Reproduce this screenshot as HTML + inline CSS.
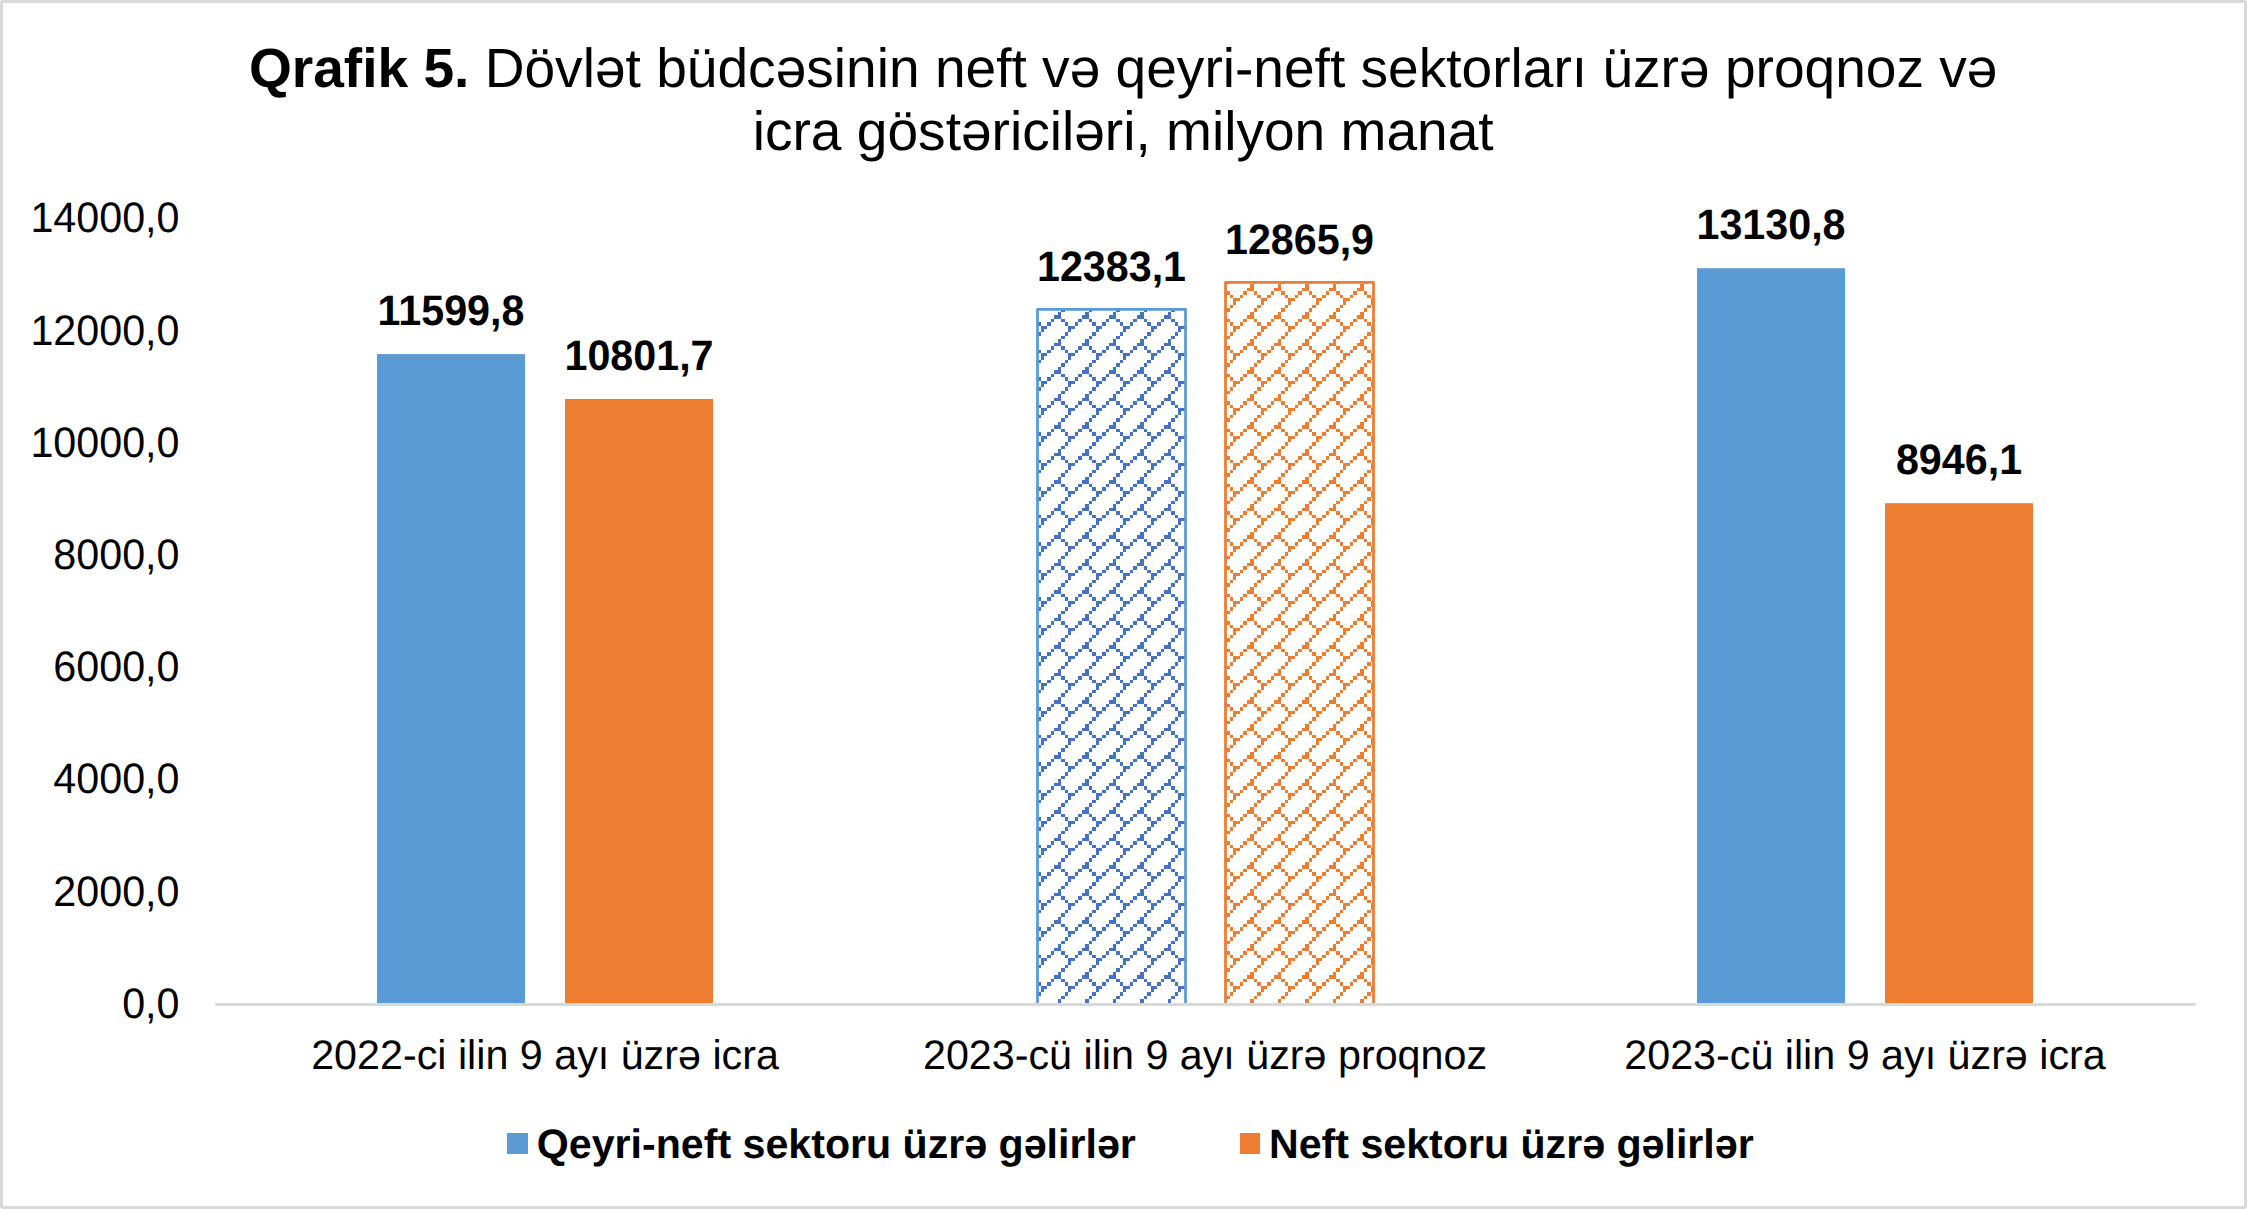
<!DOCTYPE html>
<html lang="az">
<head>
<meta charset="utf-8">
<title>Qrafik 5</title>
<style>
html,body{margin:0;padding:0;background:#fff;}
body{width:2247px;height:1209px;overflow:hidden;position:relative;}
svg{position:absolute;left:0;top:0;display:block;}
text{font-family:"Liberation Sans",sans-serif;fill:#000;text-rendering:geometricPrecision;}
.t{font-size:55.1px;}
.a{font-size:41.25px;}
.b{font-size:41.25px;font-weight:bold;}
.l{font-size:41.15px;font-weight:bold;}
</style>
</head>
<body>
<svg width="2247" height="1209" viewBox="0 0 2247 1209">
<defs>
<pattern id="pb" patternUnits="userSpaceOnUse" x="54" y="37" width="55" height="55"><rect width="55" height="55" fill="#fff"/><g fill="#4472C4" shape-rendering="crispEdges"><rect x="14" y="0" width="3" height="3"/><rect x="41" y="0" width="4" height="3"/><rect x="10" y="3" width="4" height="4"/><rect x="38" y="3" width="3" height="4"/><rect x="14" y="3" width="3" height="4"/><rect x="41" y="3" width="4" height="4"/><rect x="7" y="7" width="3" height="3"/><rect x="34" y="7" width="4" height="3"/><rect x="17" y="7" width="4" height="3"/><rect x="45" y="7" width="3" height="3"/><rect x="3" y="10" width="4" height="4"/><rect x="31" y="10" width="3" height="4"/><rect x="21" y="10" width="3" height="4"/><rect x="48" y="10" width="4" height="4"/><rect x="24" y="14" width="3" height="3"/><rect x="52" y="14" width="3" height="3"/><rect x="0" y="14" width="3" height="3"/><rect x="27" y="14" width="4" height="3"/><rect x="24" y="17" width="3" height="3"/><rect x="52" y="17" width="3" height="3"/><rect x="21" y="20" width="3" height="4"/><rect x="48" y="20" width="4" height="4"/><rect x="17" y="24" width="4" height="3"/><rect x="45" y="24" width="3" height="3"/><rect x="14" y="27" width="3" height="4"/><rect x="41" y="27" width="4" height="4"/><rect x="10" y="31" width="4" height="3"/><rect x="38" y="31" width="3" height="3"/><rect x="14" y="31" width="3" height="3"/><rect x="41" y="31" width="4" height="3"/><rect x="7" y="34" width="3" height="4"/><rect x="34" y="34" width="4" height="4"/><rect x="17" y="34" width="4" height="4"/><rect x="45" y="34" width="3" height="4"/><rect x="3" y="38" width="4" height="3"/><rect x="31" y="38" width="3" height="3"/><rect x="21" y="38" width="3" height="3"/><rect x="48" y="38" width="4" height="3"/><rect x="24" y="41" width="3" height="3"/><rect x="52" y="41" width="3" height="3"/><rect x="0" y="41" width="3" height="3"/><rect x="27" y="41" width="4" height="3"/><rect x="24" y="44" width="3" height="4"/><rect x="52" y="44" width="3" height="4"/><rect x="21" y="48" width="3" height="3"/><rect x="48" y="48" width="4" height="3"/><rect x="17" y="51" width="4" height="4"/><rect x="45" y="51" width="3" height="4"/></g></pattern>
<pattern id="po" patternUnits="userSpaceOnUse" x="54" y="37" width="55" height="55"><rect width="55" height="55" fill="#fff"/><g fill="#ED7D31" shape-rendering="crispEdges"><rect x="14" y="0" width="3" height="3"/><rect x="41" y="0" width="4" height="3"/><rect x="10" y="3" width="4" height="4"/><rect x="38" y="3" width="3" height="4"/><rect x="14" y="3" width="3" height="4"/><rect x="41" y="3" width="4" height="4"/><rect x="7" y="7" width="3" height="3"/><rect x="34" y="7" width="4" height="3"/><rect x="17" y="7" width="4" height="3"/><rect x="45" y="7" width="3" height="3"/><rect x="3" y="10" width="4" height="4"/><rect x="31" y="10" width="3" height="4"/><rect x="21" y="10" width="3" height="4"/><rect x="48" y="10" width="4" height="4"/><rect x="24" y="14" width="3" height="3"/><rect x="52" y="14" width="3" height="3"/><rect x="0" y="14" width="3" height="3"/><rect x="27" y="14" width="4" height="3"/><rect x="24" y="17" width="3" height="3"/><rect x="52" y="17" width="3" height="3"/><rect x="21" y="20" width="3" height="4"/><rect x="48" y="20" width="4" height="4"/><rect x="17" y="24" width="4" height="3"/><rect x="45" y="24" width="3" height="3"/><rect x="14" y="27" width="3" height="4"/><rect x="41" y="27" width="4" height="4"/><rect x="10" y="31" width="4" height="3"/><rect x="38" y="31" width="3" height="3"/><rect x="14" y="31" width="3" height="3"/><rect x="41" y="31" width="4" height="3"/><rect x="7" y="34" width="3" height="4"/><rect x="34" y="34" width="4" height="4"/><rect x="17" y="34" width="4" height="4"/><rect x="45" y="34" width="3" height="4"/><rect x="3" y="38" width="4" height="3"/><rect x="31" y="38" width="3" height="3"/><rect x="21" y="38" width="3" height="3"/><rect x="48" y="38" width="4" height="3"/><rect x="24" y="41" width="3" height="3"/><rect x="52" y="41" width="3" height="3"/><rect x="0" y="41" width="3" height="3"/><rect x="27" y="41" width="4" height="3"/><rect x="24" y="44" width="3" height="4"/><rect x="52" y="44" width="3" height="4"/><rect x="21" y="48" width="3" height="3"/><rect x="48" y="48" width="4" height="3"/><rect x="17" y="51" width="4" height="4"/><rect x="45" y="51" width="3" height="4"/></g></pattern>
</defs>
<rect x="0" y="0" width="2247" height="1209" fill="#fff"/>
<rect x="1.5" y="1.5" width="2244" height="1206" rx="1.5" fill="#fff" stroke="#D9D9D9" stroke-width="3"/>
<text class="t" transform="translate(1123.2,87)" text-anchor="middle"><tspan font-weight="bold">Qrafik 5.</tspan> Dövlət büdcəsinin neft və qeyri-neft sektorları üzrə proqnoz və</text>
<text class="t" transform="translate(1123.2,150)" text-anchor="middle">icra göstəriciləri, milyon manat</text>
<text class="a" transform="translate(179.5,1017.7) scale(1,1.033)" text-anchor="end">0,0</text>
<text class="a" transform="translate(179.5,905.5) scale(1,1.033)" text-anchor="end">2000,0</text>
<text class="a" transform="translate(179.5,793.3) scale(1,1.033)" text-anchor="end">4000,0</text>
<text class="a" transform="translate(179.5,681.1) scale(1,1.033)" text-anchor="end">6000,0</text>
<text class="a" transform="translate(179.5,568.9) scale(1,1.033)" text-anchor="end">8000,0</text>
<text class="a" transform="translate(179.5,456.7) scale(1,1.033)" text-anchor="end">10000,0</text>
<text class="a" transform="translate(179.5,344.5) scale(1,1.033)" text-anchor="end">12000,0</text>
<text class="a" transform="translate(179.5,232.3) scale(1,1.033)" text-anchor="end">14000,0</text>
<rect x="377" y="354.1" width="148" height="650.4" fill="#5B9BD5"/>
<rect x="565" y="399.0" width="148" height="605.5" fill="#ED7D31"/>
<rect x="1697" y="268.2" width="148" height="736.3" fill="#5B9BD5"/>
<rect x="1885" y="503.2" width="148" height="501.3" fill="#ED7D31"/>
<rect x="1037.5" y="309.4" width="148.0" height="695.1" fill="url(#pb)" stroke="#5B9BD5" stroke-width="2.75" stroke-linejoin="round"/>
<rect x="1225.5" y="282.4" width="148.0" height="722.1" fill="url(#po)" stroke="#ED7D31" stroke-width="2.75" stroke-linejoin="round"/>
<line x1="215.3" y1="1004.5" x2="2195.5" y2="1004.5" stroke="#D9D9D9" stroke-width="2.8"/>
<text class="b" transform="translate(451,325.0) scale(1,1.033)" text-anchor="middle">11599,8</text>
<text class="b" transform="translate(639,369.9) scale(1,1.033)" text-anchor="middle">10801,7</text>
<text class="b" transform="translate(1111.5,281.1) scale(1,1.033)" text-anchor="middle">12383,1</text>
<text class="b" transform="translate(1299.5,254.0) scale(1,1.033)" text-anchor="middle">12865,9</text>
<text class="b" transform="translate(1771,239.1) scale(1,1.033)" text-anchor="middle">13130,8</text>
<text class="b" transform="translate(1959,474.1) scale(1,1.033)" text-anchor="middle">8946,1</text>
<text class="a" transform="translate(545,1069)" text-anchor="middle">2022-ci ilin 9 ayı üzrə icra</text>
<text class="a" transform="translate(1205,1069)" text-anchor="middle">2023-cü ilin 9 ayı üzrə proqnoz</text>
<text class="a" transform="translate(1865,1069)" text-anchor="middle">2023-cü ilin 9 ayı üzrə icra</text>
<rect x="507" y="1133" width="21" height="21" fill="#5B9BD5"/>
<text class="l" transform="translate(536.8,1158)">Qeyri-neft sektoru üzrə gəlirlər</text>
<rect x="1240" y="1133" width="20" height="21" fill="#ED7D31"/>
<text class="l" transform="translate(1269.0,1158)">Neft sektoru üzrə gəlirlər</text>
</svg>
</body>
</html>
